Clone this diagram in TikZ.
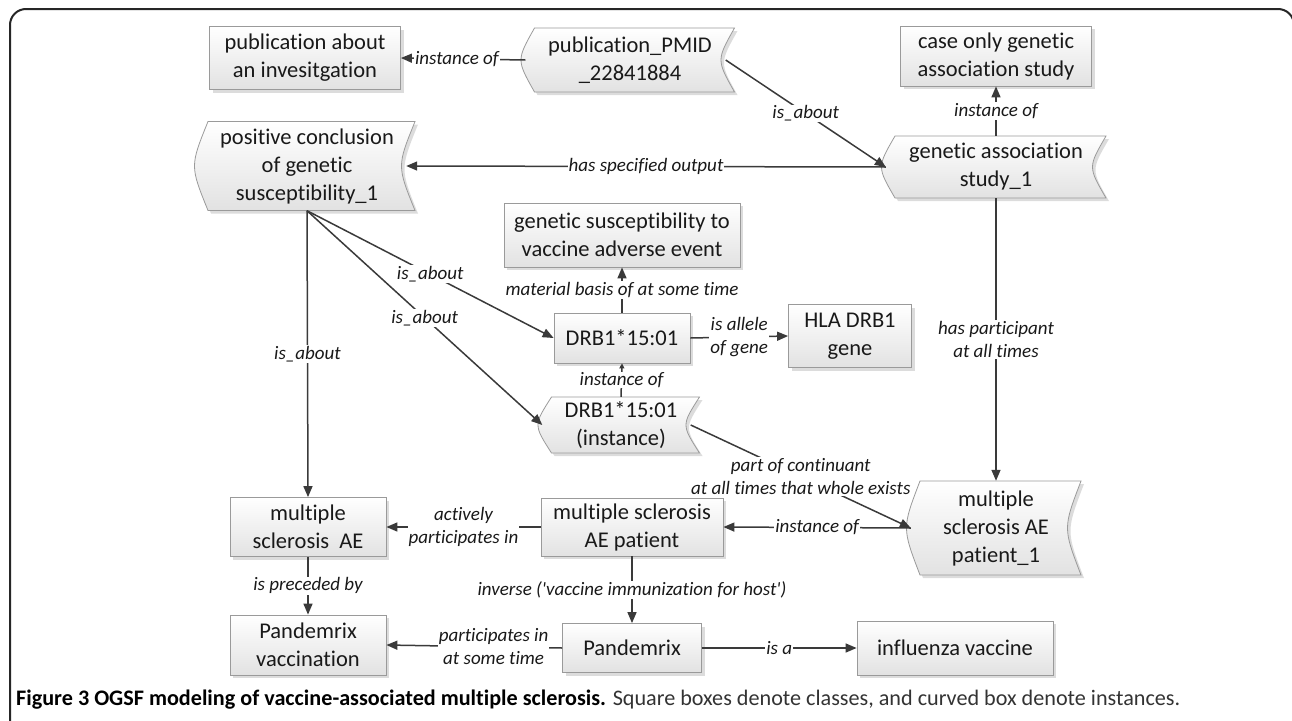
\documentclass[tikz,border=0pt]{standalone}
\usepackage{fontspec}
\usepackage{graphicx}
\setmainfont{Carlito}
\newfontfamily\cf[Ligatures=NoCommon]{Carlito}
\usetikzlibrary{arrows.meta,shadows}
\definecolor{linec}{HTML}{3A3A3A}
\definecolor{boxline}{HTML}{9A9A9A}
\definecolor{boxfill}{HTML}{E2E2E2}
\newcommand\boxfont{\cf\fontsize{22.5}{28}\selectfont}
\newcommand\lblfont{\cf\fontsize{19}{23}\selectfont\itshape}
\tikzset{
  lbl/.style={font=\lblfont, fill=white, inner sep=1pt, align=center, text=black!90},
  conn/.style={draw=linec, line width=1.5pt, -{Triangle[length=11pt,width=9pt]}},
  smalltip/.style={-{Triangle[length=5pt,width=5pt]}},
  classbox/.style={draw=boxline, line width=0.8pt, top color=white, bottom color=boxfill,
    font=\boxfont, align=center, inner sep=0pt, text=black!90,
    drop shadow={shadow xshift=3pt, shadow yshift=-3pt, fill=black!30, opacity=0.45}},
  instnode/.style={font=\boxfont, align=center, inner sep=0pt, text=black!90},
  instline/.style={draw=boxline, line width=0.8pt, top color=white, bottom color=boxfill},
  instshadow/.style={fill=black!30, opacity=0.45}
}
% #1 name, #2 cx, #3 cy, #4 w, #5 h, #6 text
\newcommand\instbox[6]{%
  \begin{scope}[shift={(#2,#3)}]
    \fill[instshadow, shift={(3,3)}] ({-#4/2+9},{-#5/2}) -- ({#4/2},{-#5/2})
      .. controls ({#4/2-18},0) .. ({#4/2},{#5/2}) -- ({-#4/2+9},{#5/2})
      .. controls ({-#4/2-9},0) .. ({-#4/2+9},{-#5/2}) -- cycle;
    \path[instline] ({-#4/2+9},{-#5/2}) -- ({#4/2},{-#5/2})
      .. controls ({#4/2-18},0) .. ({#4/2},{#5/2}) -- ({-#4/2+9},{#5/2})
      .. controls ({-#4/2-9},0) .. ({-#4/2+9},{-#5/2}) -- cycle;
  \end{scope}
  \node[instnode, minimum width=#4pt, minimum height=#5pt] (#1) at (#2,#3) {#6};
}
\begin{document}
\begin{tikzpicture}[x=1pt,y=-1pt]
\useasboundingbox (0,0) rectangle (1292,720);
\begin{scope}
\clip (0,0) rectangle (1292,720);
\draw[line width=2pt, black!85, rounded corners=16pt] (10,740) -- (10,9) -- (1294,9) -- (1294,740);
\end{scope}

% class boxes
\node[classbox, minimum width=191pt, minimum height=63pt] (pub) at (305,58) {publication about\\an invesitgation};
\node[classbox, minimum width=191pt, minimum height=60pt] (case) at (996,56) {case only genetic\\association study};
\node[classbox, minimum width=236pt, minimum height=64pt] (gsvae) at (622,235) {genetic susceptibility to\\vaccine adverse event};
\node[classbox, minimum width=136pt, minimum height=50pt] (drb) at (622,338) {DRB1*15:01};
\node[classbox, minimum width=123pt, minimum height=63pt] (hla) at (850,336) {HLA DRB1\\gene};
\node[classbox, minimum width=156pt, minimum height=59pt] (msae) at (308,527) {multiple\\sclerosis\ \ AE};
\node[classbox, minimum width=182pt, minimum height=58pt] (msaep) at (632,527) {multiple sclerosis\\AE patient};
\node[classbox, minimum width=156pt, minimum height=60pt] (pv) at (308,645) {Pandemrix\\vaccination};
\node[classbox, minimum width=139pt, minimum height=49pt] (pan) at (632,648) {Pandemrix};
\node[classbox, minimum width=196pt, minimum height=54pt] (flu) at (955,648) {influenza vaccine};

% instance boxes
\instbox{pmid}{630}{60}{209}{64}{publication\_PMID\\\_22841884}
\instbox{gas}{996}{167}{220}{62}{genetic association\\study\_1}
\instbox{pc}{307}{166}{216}{89}{positive conclusion\\of genetic\\susceptibility\_1}
\instbox{drbi}{621}{425}{157}{56}{DRB1*15:01\\(instance)}
\instbox{msae1}{996}{528}{170}{94}{multiple\\sclerosis AE\\patient\_1}

% connectors
\draw[conn] (pmid.west) -- (pub.east) node[lbl, pos=0.55] {instance of};
\draw[conn] ([xshift=-9pt]pmid.east) -- (gas.west) node[lbl, midway] {is\_about};
\draw[conn] (gas.north) -- (case.south) node[lbl, midway] {instance of};
\draw[conn] (gas.west) -- ([xshift=-9pt]pc.east) node[lbl, midway] {has specified output};
\draw[conn] (gas.south) -- (msae1.north) node[lbl, midway] {has participant\\at all times};
\draw[conn] (pc.south) -- (msae.north) node[lbl, midway] {is\_about};
\draw[conn] (pc.south) -- (drb.west) node[lbl, midway] {is\_about};
\draw[conn] (pc.south) -- (drbi.west) node[lbl, midway] {is\_about};
\draw[conn] (drb.north) -- (gsvae.south) node[lbl, midway] {material basis of at some time};
\draw[conn] (drb.east) -- (hla.west) node[lbl, midway] {is allele\\of gene};
\draw[conn, smalltip] (drbi.north) -- (drb.south) node[lbl, midway, inner sep=0pt] {instance of};
\draw[conn] ([xshift=-9pt]drbi.east) -- (msae1.west) node[lbl, midway] {part of continuant\\at all times that whole exists};
\draw[conn] (msae1.west) -- (msaep.east) node[lbl, midway] {instance of};
\draw[conn] (msaep.west) -- (msae.east) node[lbl, midway] {actively\\participates in};
\draw[conn] (msae.south) -- (pv.north) node[lbl, midway] {is preceded by};
\draw[conn] (msaep.south) -- (pan.north) node[lbl, midway] {inverse ('vaccine immunization for host')};
\draw[conn] (pan.west) -- (pv.east) node[lbl, pos=0.39] {participates in\\at some time};
\draw[conn] (pan.east) -- (flu.west) node[lbl, midway] {is a};

% caption
\node[anchor=west, inner sep=0pt] (cap) at (16,700) {\resizebox{1164pt}{!}{\cf\fontsize{20}{24}\selectfont\textbf{Figure 3 OGSF modeling of vaccine-associated multiple sclerosis.} \textcolor{black!80}{Square boxes denote classes, and curved box denote instances.}}};
\end{tikzpicture}
\end{document}
